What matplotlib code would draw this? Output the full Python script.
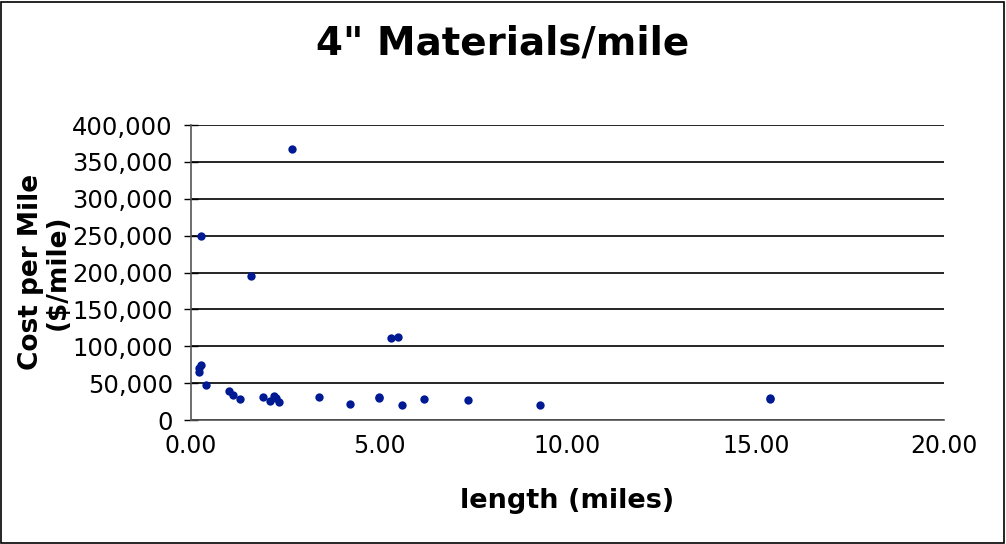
import matplotlib
matplotlib.use("Agg")
import matplotlib.pyplot as plt
from matplotlib.ticker import FuncFormatter, MultipleLocator

# length (miles) and cost per mile ($/mile)
length_miles = [0.27, 1.60, 2.68, 0.27, 0.20, 0.22, 0.41, 1.01, 1.12, 1.30,
                1.90, 2.11, 2.20, 2.25, 2.33, 3.40, 4.21, 4.99, 5.00, 5.30,
                5.51, 5.61, 6.19, 7.35, 9.28, 15.37, 15.38]
cost_per_mile = [250000, 195700, 368000, 74600, 65500, 70000, 47900, 39300,
                 33900, 28500, 30800, 25300, 33000, 29500, 24800, 30800,
                 22100, 29800, 31000, 110800, 112500, 20300, 28900, 27100,
                 20300, 28000, 29500]

fig = plt.figure(figsize=(10.06, 5.44), dpi=100)
fig.patches.append(plt.Rectangle((0.001, 0.002), 0.997, 0.995, transform=fig.transFigure,
                                 fill=False, edgecolor="black", linewidth=1.2))
ax = fig.add_axes([191 / 1006, 1 - 420 / 544, 753 / 1006, 295 / 544])

ax.scatter(length_miles, cost_per_mile, s=36, color="#001a94", zorder=3, linewidths=0)

ax.set_xlim(0, 20)
ax.set_ylim(0, 400000)
ax.xaxis.set_major_locator(MultipleLocator(5))
ax.yaxis.set_major_locator(MultipleLocator(50000))
ax.xaxis.set_major_formatter(FuncFormatter(lambda v, p: f"{v:.2f}"))
ax.yaxis.set_major_formatter(FuncFormatter(lambda v, p: f"{v:,.0f}"))
ax.grid(axis="y", color="black", linewidth=1.2)
ax.set_axisbelow(True)

for s in ["top", "right"]:
    ax.spines[s].set_visible(False)
for s in ["left", "bottom"]:
    ax.spines[s].set_color("#555555")
    ax.spines[s].set_linewidth(1.2)

ax.tick_params(axis="y", direction="inout", length=10, width=1, labelsize=17.5, pad=8)
ax.tick_params(axis="x", direction="inout", length=0, labelsize=17, pad=10)

fig.text(0.5, 1 - 43 / 544, '4" Materials/mile', fontsize=28, fontweight="bold",
         ha="center", va="center")
ax.set_xlabel("length (miles)", fontsize=19.5, fontweight="bold", labelpad=22)
fig.text(0.044, 0.5, "Cost per Mile\n($/mile)", rotation=90, fontsize=19,
         fontweight="bold", ha="center", va="center", linespacing=1.0)

fig.savefig("out.png", dpi=100)
